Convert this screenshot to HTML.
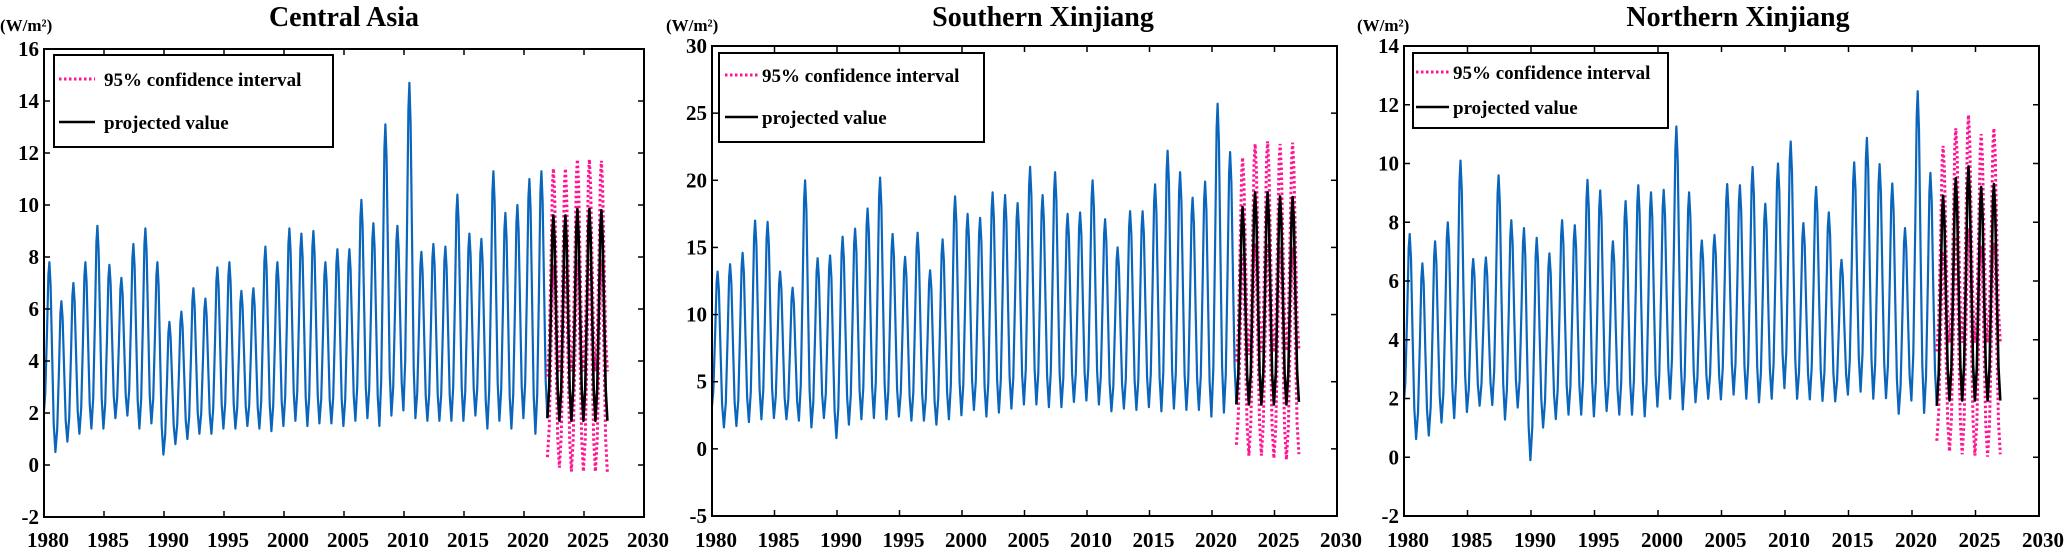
<!DOCTYPE html>
<html><head><meta charset="utf-8">
<style>
html,body{margin:0;padding:0;background:#fff;}
svg{display:block;font-family:"Liberation Serif",serif;font-weight:bold;}
</style></head>
<body>
<svg id="fig" width="2067" height="548" viewBox="0 0 2067 548" xmlns="http://www.w3.org/2000/svg"></svg>
<script>
// ---------- DATA ----------
// Central Asia
const caStart = 1.8;
const caPeaks = [7.8,6.3,7.0,7.8,9.2,7.7,7.2,8.5,9.1,7.8,5.5,5.9,6.8,6.4,7.6,7.8,6.7,6.8,8.4,7.8,9.1,8.9,9.0,7.8,8.3,8.3,10.2,9.3,13.1,9.2,14.7,8.2,8.5,8.4,10.4,8.9,8.7,11.3,9.7,10.0,11.0,11.3];
const caTroughs = [0.5,0.9,1.2,1.4,1.4,1.8,1.9,1.4,1.6,0.4,0.8,1.0,1.2,1.2,1.4,1.4,1.5,1.4,1.3,1.5,1.7,1.5,1.6,1.6,1.5,1.7,1.8,1.5,1.9,2.1,1.8,1.7,1.7,1.7,1.7,1.9,1.4,1.7,1.4,1.8,1.2,1.8];
const caProjStart = 1.8;
const caProjPeaks = [9.6,9.6,9.85,9.85,9.8];
const caProjTroughs = [1.7,1.7,1.7,1.7,1.7];
const caUpPeaks = [11.4,11.4,11.75,11.75,11.7];
const caUpTroughs = [3.6,3.6,3.6,3.6,3.6];
const caLoPeaks = [7.7,7.7,7.9,7.9,7.9];
const caLoTroughs = [-0.1,-0.25,-0.25,-0.25,-0.3];
const caLoStart = 0.3, caUpStart = 3.4;
const caYTicks = [-2,0,2,4,6,8,10,12,14,16];

// Southern Xinjiang
const sxStart = 2.7;
const sxPeaks = [13.2,13.75,14.6,17.0,16.9,13.2,12.0,20.0,14.2,14.4,15.8,16.4,17.9,20.2,16.0,14.3,16.1,13.3,15.6,18.8,17.5,17.2,19.1,18.9,18.3,21.0,18.9,20.6,17.5,17.6,20.0,17.1,15.0,17.7,17.7,19.7,22.2,20.6,18.7,19.9,25.7,22.1];
const sxTroughs = [1.6,1.7,2.0,2.2,2.3,2.2,2.1,1.6,2.3,0.8,1.8,2.2,2.3,2.2,2.4,2.1,2.1,1.8,2.2,2.5,2.9,2.4,2.7,3.0,3.3,3.3,3.1,3.1,3.5,3.6,3.3,2.8,3.0,2.9,3.1,2.8,3.0,2.9,2.9,2.4,2.7,3.3];
const sxProjStart = 3.3;
const sxProjPeaks = [18.0,19.1,19.1,18.8,18.75];
const sxProjTroughs = [3.3,3.3,3.3,3.3,3.5];
const sxUpPeaks = [21.7,22.7,22.9,22.7,22.8];
const sxUpTroughs = [7.0,7.2,7.2,7.3,7.4];
const sxLoPeaks = [14.5,15.3,15.3,15.0,15.0];
const sxLoTroughs = [-0.5,-0.5,-0.7,-0.8,-0.4];
const sxLoStart = 0.3, sxUpStart = 6.5;
const sxYTicks = [-5,0,5,10,15,20,25,30];

// Northern Xinjiang
const nxStart = 1.63;
const nxPeaks = [7.6,6.6,7.35,8.0,10.1,6.75,6.8,9.6,8.07,7.8,7.47,6.94,8.07,7.9,9.44,9.08,7.35,8.72,9.26,9.02,9.1,11.26,9.02,7.38,7.57,9.3,9.26,9.88,8.63,10.0,10.75,7.97,9.2,8.34,6.72,10.04,10.87,9.98,9.32,7.8,12.46,9.68];
const nxTroughs = [0.62,0.74,1.18,1.33,1.54,1.75,1.78,1.28,1.69,-0.1,1.01,1.3,1.45,1.45,1.39,1.57,1.45,1.45,1.39,1.72,1.99,1.63,1.87,1.99,1.97,2.13,1.99,1.87,1.99,2.35,1.99,1.97,1.92,1.9,2.13,2.23,1.99,2.01,1.48,1.93,1.51,1.75];
const nxProjStart = 1.75;
const nxProjPeaks = [8.9,9.5,9.9,9.2,9.3];
const nxProjTroughs = [1.93,1.93,1.93,1.93,1.93];
const nxUpPeaks = [10.6,11.2,11.65,11.0,11.2];
const nxUpTroughs = [3.9,3.9,3.9,3.9,3.9];
const nxLoPeaks = [7.0,7.5,7.8,7.2,7.3];
const nxLoTroughs = [0.2,0.1,0.06,0.02,0.1];
const nxLoStart = 0.56, nxUpStart = 3.6;
const nxYTicks = [-2,0,2,4,6,8,10,12,14];

const xTicks = [1980,1985,1990,1995,2000,2005,2010,2015,2020,2025,2030];
const titles = ["Central Asia","Southern Xinjiang","Northern Xinjiang"];

// ---------- DRAW ----------
const NS = "http://www.w3.org/2000/svg";
const svg = document.getElementById('fig');
function mk(tag, attrs, parent){
  const e = document.createElementNS(NS, tag);
  for (const k in attrs) e.setAttribute(k, attrs[k]);
  (parent||svg).appendChild(e);
  return e;
}
// seasonal curve: start value at year0, per cycle peak at +0.5, trough at +0.95
function seasonal(y0, start, peaks, troughs){
  const pts = [[y0, start]];
  let prev = start;
  for (let i=0;i<peaks.length;i++){
    const yr = y0 + i;
    const P = peaks[i], T = troughs[i];
    pts.push([yr+0.15, prev+0.15*(P-prev)]);
    pts.push([yr+0.3, prev+0.55*(P-prev)]);
    pts.push([yr+0.42, prev+0.92*(P-prev)]);
    pts.push([yr+0.5, P]);
    pts.push([yr+0.6, T+0.88*(P-T)]);
    pts.push([yr+0.73, T+0.5*(P-T)]);
    pts.push([yr+0.86, T+0.15*(P-T)]);
    pts.push([yr+1.0, T]);
    prev = T;
  }
  return pts;
}
const P0 = 2021.95;
const panels = [
  {L:44,R:644,T:49,B:517,ymin:-2,ymax:16,yt:caYTicks,title:titles[0],tx:344,unitX:0,
   leg:{x1:54,x2:333,y1:55,y2:147,lx1:59,lx2:95,tx:104,b1:86,b2:129},
   hist:[1979.95,caStart,caPeaks,caTroughs],proj:[P0,caProjStart,caProjPeaks,caProjTroughs],
   up:[P0,caUpStart,caUpPeaks,caUpTroughs],lo:[P0,caLoStart,caLoPeaks,caLoTroughs],name:'central-asia'},
  {L:712,R:1337,T:46,B:516,ymin:-5,ymax:30,yt:sxYTicks,title:titles[1],tx:1043,unitX:666,
   leg:{x1:719,x2:984,y1:53,y2:142,lx1:725,lx2:758,tx:762,b1:82,b2:124},
   hist:[1979.95,sxStart,sxPeaks,sxTroughs],proj:[P0,sxProjStart,sxProjPeaks,sxProjTroughs],
   up:[P0,sxUpStart,sxUpPeaks,sxUpTroughs],lo:[P0,sxLoStart,sxLoPeaks,sxLoTroughs],name:'southern-xinjiang'},
  {L:1404,R:2039,T:46,B:516,ymin:-2,ymax:14,yt:nxYTicks,title:titles[2],tx:1738,unitX:1357,
   leg:{x1:1413,x2:1668,y1:53,y2:128,lx1:1416,lx2:1449,tx:1453,b1:79,b2:114},
   hist:[1979.95,nxStart,nxPeaks,nxTroughs],proj:[P0,nxProjStart,nxProjPeaks,nxProjTroughs],
   up:[P0,nxUpStart,nxUpPeaks,nxUpTroughs],lo:[P0,nxLoStart,nxLoPeaks,nxLoTroughs],name:'northern-xinjiang'}
];
panels.forEach(p=>{
  const g = mk('g',{});
  
  
  const xs = v => p.L + (v-1980)/50*(p.R-p.L);
  const ys = v => p.B - (v-p.ymin)/(p.ymax-p.ymin)*(p.B-p.T);
  const cid = 'clip-'+p.name;
  const cp = mk('clipPath',{id:cid},g);
  mk('rect',{x:p.L,y:p.T,width:p.R-p.L,height:p.B-p.T},cp);
  const toPath = pts => pts.map((q,i)=>(i?'L':'M')+xs(q[0]).toFixed(1)+','+ys(q[1]).toFixed(1)).join('');
  const hist = mk('path',{d:toPath(seasonal(...p.hist)),fill:'none',stroke:'#0a66bd','stroke-width':2.2,'stroke-linejoin':'round','clip-path':'url(#'+cid+')'},g);
  
  
  [p.up,p.lo].forEach((s,i)=>{
    const ci = mk('path',{d:toPath(seasonal(...s)),fill:'none',stroke:'#ff1493','stroke-width':3,'stroke-dasharray':'2.5 2.5','clip-path':'url(#'+cid+')'},g);
    
    
  });
  const pr = mk('path',{d:toPath(seasonal(...p.proj)),fill:'none',stroke:'#000','stroke-width':2.6,'stroke-linejoin':'round','clip-path':'url(#'+cid+')'},g);
  
  
  const fr = mk('rect',{x:p.L,y:p.T,width:p.R-p.L,height:p.B-p.T,fill:'none',stroke:'#000','stroke-width':2},g);
  
  
  p.yt.forEach(v=>{
    const y = ys(v);
    mk('line',{x1:p.L,x2:p.L+6,y1:y,y2:y,stroke:'#000','stroke-width':1.5},g);
    mk('line',{x1:p.R-6,x2:p.R,y1:y,y2:y,stroke:'#000','stroke-width':1.5},g);
    const t = mk('text',{x:p.L-5,y:y+7,'text-anchor':'end','font-size':21},g);
    t.textContent = v;
    
    
  });
  xTicks.forEach(v=>{
    const x = xs(v);
    mk('line',{x1:x,x2:x,y1:p.B,y2:p.B-6,stroke:'#000','stroke-width':1.5},g);
    mk('line',{x1:x,x2:x,y1:p.T,y2:p.T+6,stroke:'#000','stroke-width':1.5},g);
    const t = mk('text',{x:x+4,y:547,'text-anchor':'middle','font-size':21},g);
    t.textContent = v;
    
    
  });
  const ti = mk('text',{x:p.tx,y:26,'text-anchor':'middle','font-size':28},g);
  ti.textContent = p.title;
  
  
  const un = mk('text',{x:p.unitX,y:31,'font-size':17},g);
  un.textContent = '(W/m²)';
  
  
  const lg = mk('g',{},g);
  
  
  const L = p.leg;
  mk('rect',{x:L.x1,y:L.y1,width:L.x2-L.x1,height:L.y2-L.y1,fill:'#fff',stroke:'#000','stroke-width':2},lg);
  mk('line',{x1:L.lx1,x2:L.lx2,y1:L.b1-7,y2:L.b1-7,stroke:'#ff1493','stroke-width':3,'stroke-dasharray':'2.5 2.5'},lg);
  mk('line',{x1:L.lx1,x2:L.lx2,y1:L.b2-7,y2:L.b2-7,stroke:'#000','stroke-width':2.6},lg);
  const t1 = mk('text',{x:L.tx,y:L.b1,'font-size':19},lg);
  t1.textContent = '95% confidence interval';
  
  
  const t2 = mk('text',{x:L.tx,y:L.b2,'font-size':19},lg);
  t2.textContent = 'projected value';
  
  
});
</script>
</body></html>
